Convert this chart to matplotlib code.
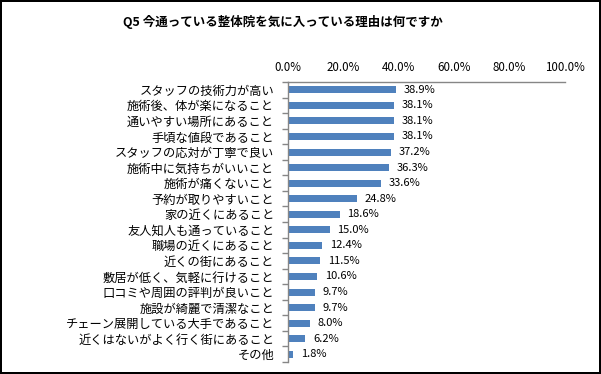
import numpy as np
import matplotlib
matplotlib.use('Agg')
import matplotlib.pyplot as plt
from matplotlib.ticker import FixedLocator, FuncFormatter

plt.rcParams['font.family'] = ['Noto Sans CJK JP', 'DejaVu Sans']

# データ
title = 'Q5 今通っている整体院を気に入っている理由は何ですか'
reasons = [
    'スタッフの技術力が高い',
    '施術後、体が楽になること',
    '通いやすい場所にあること',
    '手頃な値段であること',
    'スタッフの応対が丁寧で良い',
    '施術中に気持ちがいいこと',
    '施術が痛くないこと',
    '予約が取りやすいこと',
    '家の近くにあること',
    '友人知人も通っていること',
    '職場の近くにあること',
    '近くの街にあること',
    '敷居が低く、気軽に行けること',
    '口コミや周囲の評判が良いこと',
    '施設が綺麗で清潔なこと',
    'チェーン展開している大手であること',
    '近くはないがよく行く街にあること',
    'その他',
]
percent = [38.9, 38.1, 38.1, 38.1, 37.2, 36.3, 33.6, 24.8, 18.6,
           15.0, 12.4, 11.5, 10.6, 9.7, 9.7, 8.0, 6.2, 1.8]
x_ticks = [0, 20, 40, 60, 80, 100]

W, H = 601, 374
fig = plt.figure(figsize=(W / 100, H / 100), dpi=100)
fig.patch.set_edgecolor('black')
fig.patch.set_linewidth(1.5)

# plot area in pixels: x 288..565, y 82..362
ax = fig.add_axes([288 / W, 1 - 362 / H, (565 - 288) / W, (362 - 82) / H])

n = len(reasons)
y = np.arange(n)
ax.barh(y, percent, height=0.45, color='#4F81BD')
for yi, v in zip(y, percent):
    ax.text(v + 2.8, yi, '%.1f%%' % v, va='center', ha='left', fontsize=8)

ax.set_xlim(0, 100)
ax.set_ylim(n - 0.5, -0.5)

ax.xaxis.tick_top()
ax.set_xticks(x_ticks)
ax.xaxis.set_major_formatter(FuncFormatter(lambda v, p: '%.1f%%' % v))
ax.tick_params(axis='x', length=0, labelsize=8.3, pad=6)

# category boundaries get tick marks, labels sit on the centres
ax.yaxis.set_major_locator(FixedLocator(np.arange(-0.5, n, 1.0)))
ax.yaxis.set_major_formatter(FuncFormatter(lambda v, p: ''))
ax.yaxis.set_minor_locator(FixedLocator(y))
ax.set_yticklabels(reasons, minor=True)
ax.tick_params(axis='y', which='major', length=4, color='#868686', width=1)
ax.tick_params(axis='y', which='minor', length=0, labelsize=8.8, pad=10)

for s in ['right', 'bottom']:
    ax.spines[s].set_visible(False)
for s in ['left', 'top']:
    ax.spines[s].set_color('#868686')
    ax.spines[s].set_linewidth(1)

fig.text(283 / W, 1 - 22 / H, title, ha='center', va='center',
         fontsize=9, fontweight='bold')

fig.savefig('out.png', dpi=100)
